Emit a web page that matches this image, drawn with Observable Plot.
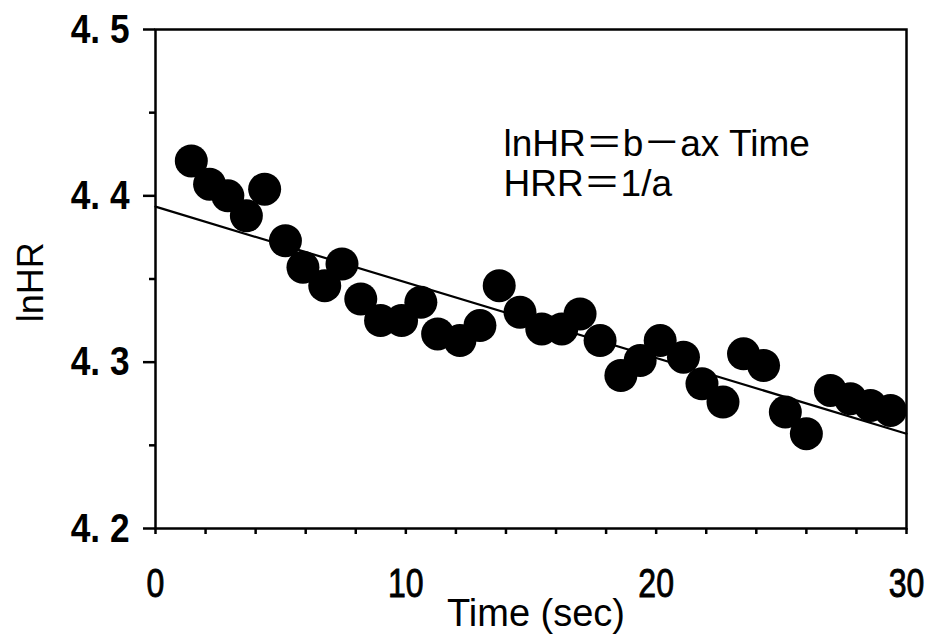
<!DOCTYPE html>
<html>
<head>
<meta charset="utf-8">
<script src="https://cdn.jsdelivr.net/npm/d3@7"></script>
<script src="https://cdn.jsdelivr.net/npm/@observablehq/plot@0.6"></script>
<style>
  html, body { margin: 0; padding: 0; background: #fff; }
  #chart svg { display: block; }
</style>
</head>
<body>
<div id="chart"></div>
<script>
const timeSec = [1.43, 2.16, 2.89, 3.63, 4.36, 5.19, 5.89, 6.76, 7.45, 8.2, 8.99, 9.83,
  10.6, 11.27, 12.16, 12.96, 13.73, 14.56, 15.43, 16.23, 16.96, 17.76, 18.59, 19.36,
  20.16, 21.09, 21.83, 22.67, 23.49, 24.29, 25.16, 26.0, 26.96, 27.76, 28.56, 29.36];
const lnHR = [4.421, 4.407, 4.400, 4.388, 4.404, 4.373, 4.357, 4.346, 4.359, 4.338, 4.325, 4.325,
  4.336, 4.317, 4.313, 4.322, 4.346, 4.330, 4.320, 4.320, 4.329, 4.313, 4.292, 4.301,
  4.313, 4.303, 4.287, 4.276, 4.305, 4.298, 4.270, 4.257, 4.283, 4.278, 4.274, 4.271];
const fitTime = [0, 30];
const fitLnHR = [4.3935, 4.257];
const xLabelTicks = [0, 10, 20, 30];
const xMinorTicks = d3.range(0, 31, 2);
const yLabelTicks = [4.2, 4.3, 4.4, 4.5];
const yMinorTicks = [4.25, 4.35, 4.45];
const annotation = ["lnHR\uFF1Db\uFF0Dax Time", "HRR\uFF1D1/a"];
const xTitle = "Time (sec)";
const yTitle = "lnHR";

const points = timeSec.map((t, i) => ({t, v: lnHR[i]}));
const fit = fitTime.map((t, i) => ({t, v: fitLnHR[i]}));

const font = "'Liberation Sans', Arial, 'Noto Sans CJK JP', sans-serif";

const chart = Plot.plot({
  width: 927,
  height: 642,
  marginLeft: 155,
  marginRight: 21,
  marginTop: 29,
  marginBottom: 114,
  style: {fontFamily: font, background: "#fff", color: "#000"},
  x: {domain: [0, 30]},
  y: {domain: [4.2, 4.5]},
  marks: [
    Plot.frame({stroke: "#000", strokeWidth: 2.5}),
    Plot.axisX({ticks: xMinorTicks, tickSize: 6, tickFormat: () => "", strokeWidth: 2.5, label: null}),
    Plot.axisX({ticks: xLabelTicks, tickSize: 0, tickPadding: 40, fontSize: 40, label: null}),
    Plot.axisY({ticks: yMinorTicks, tickSize: 6, tickFormat: () => "", strokeWidth: 2.5, label: null}),
    Plot.axisY({ticks: yLabelTicks, tickSize: 12, tickPadding: 14, strokeWidth: 2.5, fontSize: 41,
      fontWeight: "bold", label: null,
      tickFormat: d => d.toFixed(1).replace(".", ". ")}),
    Plot.line(fit, {x: "t", y: "v", stroke: "#000", strokeWidth: 2.2}),
    Plot.dot(points, {x: "t", y: "v", r: 16.5, fill: "#000", stroke: "none"}),
    Plot.text(annotation, {x: 13.9, y: (d, i) => 4.4308 - i * 0.0235, text: d => d,
      textAnchor: "start", lineAnchor: "middle", fontSize: 37, fill: "#000"}),
    Plot.text([xTitle], {x: 15.2, y: 4.1489, text: d => d, lineAnchor: "middle",
      fontSize: 38, fill: "#000"}),
    Plot.text([yTitle], {x: -4.95, y: 4.348, rotate: -90, text: d => d, lineAnchor: "middle",
      fontSize: 36, fill: "#000"})
  ]
});
// Tall, narrow digits as in the reference's tick labels
d3.select(chart).selectAll("g[aria-label='x-axis tick label'] text")
  .attr("stroke", "#000").attr("stroke-width", 0.9)
  .attr("transform", function() { return (this.getAttribute("transform") || "") + " scale(0.8,1)"; });
d3.select(chart).selectAll("g[aria-label='y-axis tick label'] text")
  .attr("transform", function() { return (this.getAttribute("transform") || "") + " scale(0.86,1)"; });
document.getElementById("chart").appendChild(chart);
</script>
</body>
</html>
